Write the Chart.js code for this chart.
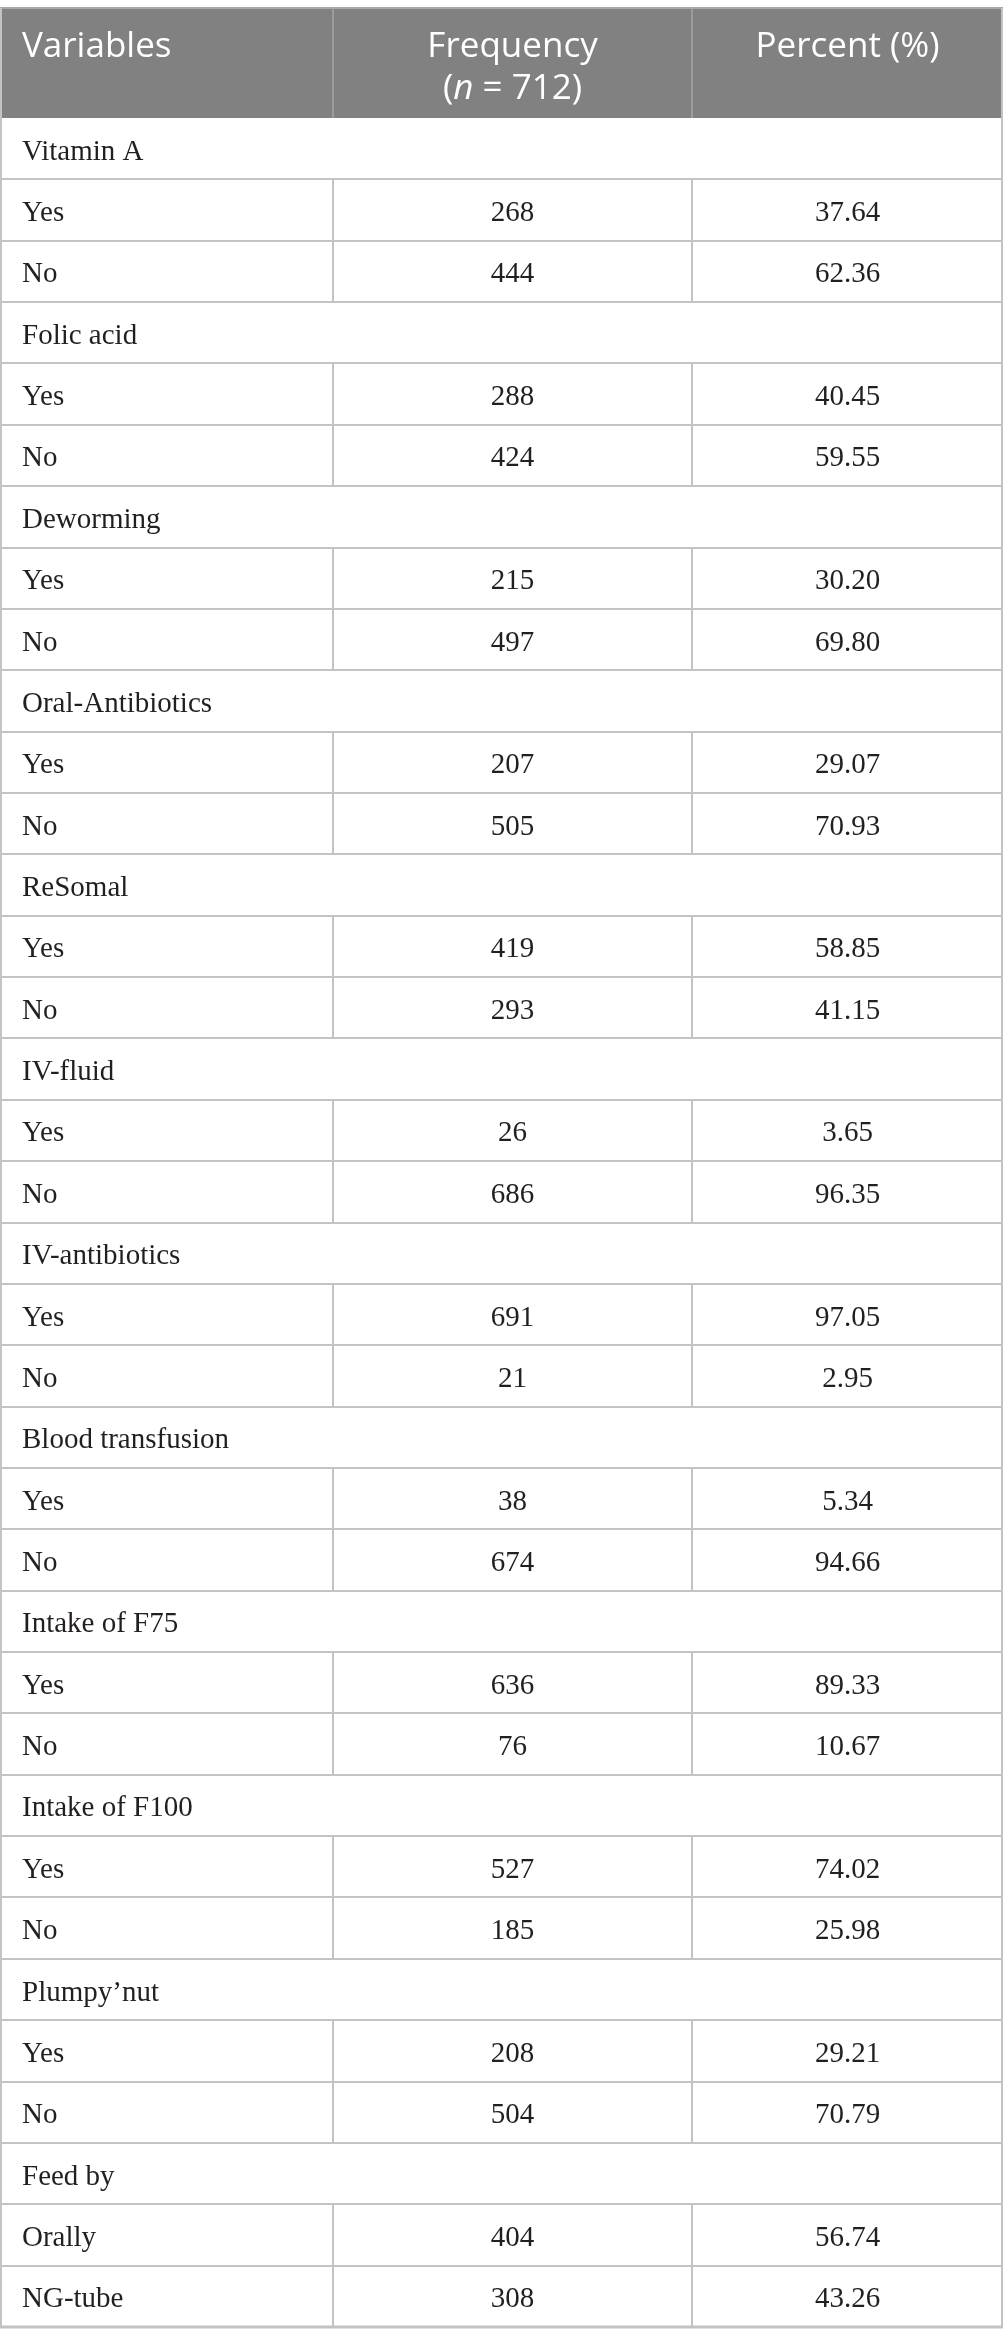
<!DOCTYPE html>
<html>
<head>
<meta charset="utf-8">
<script src="https://cdn.jsdelivr.net/npm/chart.js@4"></script>
<style>
html,body{margin:0;padding:0;background:#fff;}
#wrap{position:relative;width:1005px;height:2343px;}
</style>
</head>
<body>
<div id="wrap"><canvas id="c"></canvas></div>
<script>
// ---- data ----
const headers = ['Variables', 'Frequency', 'Percent (%)'];
const sampleSize = 712;
const variables = ['Vitamin A','Folic acid','Deworming','Oral-Antibiotics','ReSomal','IV-fluid','IV-antibiotics','Blood transfusion','Intake of F75','Intake of F100','Plumpy\u2019nut','Feed by'];
const levels = [['Yes','No'],['Yes','No'],['Yes','No'],['Yes','No'],['Yes','No'],['Yes','No'],['Yes','No'],['Yes','No'],['Yes','No'],['Yes','No'],['Yes','No'],['Orally','NG-tube']];
const frequency = [268,444, 288,424, 215,497, 207,505, 419,293, 26,686, 691,21, 38,674, 636,76, 527,185, 208,504, 404,308];
const percent = [37.64,62.36, 40.45,59.55, 30.20,69.80, 29.07,70.93, 58.85,41.15, 3.65,96.35, 97.05,2.95, 5.34,94.66, 89.33,10.67, 74.02,25.98, 29.21,70.79, 56.74,43.26];

// ---- build rows (group row followed by its levels) ----
const rows = [];
let k = 0;
variables.forEach((v, gi) => {
  rows.push({type: 'group', label: v});
  levels[gi].forEach(l => {
    rows.push({type: 'item', label: l, freq: frequency[k], pct: percent[k]});
    k++;
  });
});
const rowLabels = rows.map(r => r.label);

// layout (scale units: x = % of table width)
const colEdges = [0, 33.2, 69.0, 100];
const HEADER_H = 110;
const TOP = 8;

const tablePlugin = {
  id: 'tablePlugin',
  afterDraw(chart) {
    const ctx = chart.ctx;
    const xs = chart.scales.x, ys = chart.scales.y;
    const X = v => xs.getPixelForValue(v);
    const half = (ys.getPixelForValue(1) - ys.getPixelForValue(0)) / 2;
    const left = X(0), right = X(100);
    const bodyTop = ys.getPixelForValue(0) - half;
    const bodyBottom = ys.getPixelForValue(rows.length - 1) + half;
    const headTop = bodyTop - HEADER_H;

    ctx.save();
    // header background
    ctx.fillStyle = '#808180';
    ctx.fillRect(left, headTop, right - left, HEADER_H);
    // header dividers
    ctx.strokeStyle = '#9c9c9c';
    ctx.lineWidth = 2;
    [1, 2].forEach(ci => {
      const x = Math.round(X(colEdges[ci]));
      ctx.beginPath(); ctx.moveTo(x, headTop); ctx.lineTo(x, bodyTop); ctx.stroke();
    });
    ctx.strokeStyle = '#a8a8a8';
    ctx.beginPath(); ctx.moveTo(left, headTop); ctx.lineTo(right, headTop); ctx.stroke();

    // header text
    ctx.fillStyle = '#ffffff';
    ctx.font = '35px "Open Sans"';
    ctx.textBaseline = 'alphabetic';
    ctx.textAlign = 'left';
    ctx.fillText(headers[0], X(colEdges[0]) + 22, headTop + 49);
    const c2 = (X(colEdges[1]) + X(colEdges[2])) / 2;
    const c3 = (X(colEdges[2]) + X(colEdges[3])) / 2;
    ctx.textAlign = 'center';
    ctx.fillText(headers[1], c2, headTop + 49);
    ctx.fillText(headers[2], c3, headTop + 49);
    // second line "(n = 712)" with italic n
    const p1 = '(', p2 = 'n', p3 = ' = ' + sampleSize + ')';
    ctx.font = '35px "Open Sans"';
    const w1 = ctx.measureText(p1).width, w3 = ctx.measureText(p3).width;
    ctx.font = 'italic 35px "Open Sans"';
    const w2 = ctx.measureText(p2).width;
    let sx = c2 - (w1 + w2 + w3) / 2;
    const by = headTop + 91;
    ctx.textAlign = 'left';
    ctx.font = '35px "Open Sans"';
    ctx.fillText(p1, sx, by); sx += w1;
    ctx.font = 'italic 35px "Open Sans"';
    ctx.fillText(p2, sx, by); sx += w2;
    ctx.font = '35px "Open Sans"';
    ctx.fillText(p3, sx, by);

    // body lines
    ctx.strokeStyle = '#c3c3c3';
    ctx.lineWidth = 2;
    rows.forEach((r, i) => {
      const yc = ys.getPixelForValue(i);
      const y0 = Math.round(yc - half), y1 = Math.round(yc + half);
      ctx.beginPath(); ctx.moveTo(left, y1); ctx.lineTo(right, y1); ctx.stroke();
      if (r.type === 'item') {
        [1, 2].forEach(ci => {
          const x = Math.round(X(colEdges[ci]));
          ctx.beginPath(); ctx.moveTo(x, y0); ctx.lineTo(x, y1); ctx.stroke();
        });
      }
    });
    // outer borders
    ctx.beginPath(); ctx.moveTo(left + 1, headTop); ctx.lineTo(left + 1, bodyBottom); ctx.stroke();
    ctx.beginPath(); ctx.moveTo(right - 1, headTop); ctx.lineTo(right - 1, bodyBottom); ctx.stroke();
    ctx.lineWidth = 3;
    ctx.beginPath(); ctx.moveTo(left, bodyBottom); ctx.lineTo(right, bodyBottom); ctx.stroke();

    // body text
    ctx.fillStyle = '#231f20';
    ctx.font = '29px "Liberation Serif"';
    rows.forEach((r, i) => {
      const base = ys.getPixelForValue(i) + 11;
      ctx.textAlign = 'left';
      ctx.fillText(r.label, X(colEdges[0]) + 22, base);
      if (r.type === 'item') {
        ctx.textAlign = 'center';
        ctx.fillText(String(r.freq), c2, base);
        ctx.fillText(r.pct.toFixed(2), c3, base);
      }
    });
    ctx.restore();
  }
};

new Chart(document.getElementById('c'), {
  type: 'bar',
  data: {
    labels: rowLabels,
    datasets: [{ label: 'Frequency', data: [], backgroundColor: 'rgba(0,0,0,0)' }]
  },
  options: {
    indexAxis: 'y',
    responsive: true,
    maintainAspectRatio: false,
    animation: false,
    devicePixelRatio: 1,
    layout: { padding: { top: TOP + HEADER_H, bottom: 16, left: 0, right: 2 } },
    plugins: { legend: { display: false }, tooltip: { enabled: false } },
    scales: {
      x: { type: 'linear', min: 0, max: 100, display: false },
      y: { type: 'category', display: false, offset: true }
    }
  },
  plugins: [tablePlugin]
});
</script>
</body>
</html>
